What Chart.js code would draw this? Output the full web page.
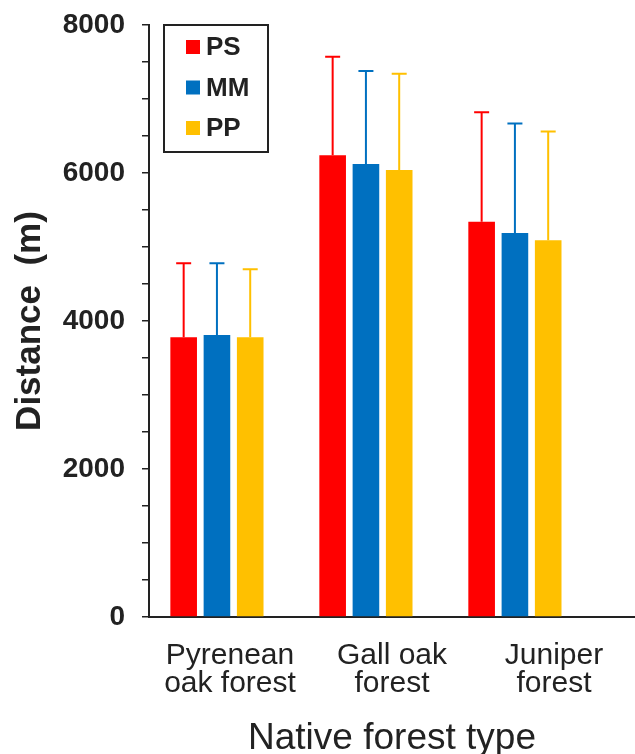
<!DOCTYPE html>
<html>
<head>
<meta charset="utf-8">
<script src="https://cdn.jsdelivr.net/npm/chart.js@4.4.1/dist/chart.umd.min.js"></script>
<style>
  body { margin: 0; background: #fff; }
  canvas { display: block; }
</style>
</head>
<body>
<canvas id="distChart" width="635" height="754"></canvas>
<script>
// forest types (two-line labels)
const forestTypes = [["Pyrenean", "oak forest"], ["Gall oak", "forest"], ["Juniper", "forest"]];
const groupIndex = [0, 1, 2];

// mean distance (m) per species
const psMean = [3780, 6240, 5340];
const mmMean = [3810, 6120, 5190];
const ppMean = [3780, 6040, 5090];

// upper error (m) per species
const psErr = [1000, 1330, 1480];
const mmErr = [970, 1260, 1480];
const ppErr = [920, 1300, 1470];

const yTicks = [0, 2000, 4000, 6000, 8000];

const FONT = "'Liberation Sans', Arial, sans-serif";
const INK = "#222";

const points = vals => vals.map((v, i) => ({ x: groupIndex[i], y: v }));

// upper error bars with caps
const errorBars = {
    id: "errorBars",
    afterDatasetsDraw(chart) {
        const ctx = chart.ctx;
        const y = chart.scales.y;
        chart.data.datasets.forEach((ds, i) => {
            const meta = chart.getDatasetMeta(i);
            meta.data.forEach((bar, j) => {
                const top = y.getPixelForValue(ds.data[j].y + ds.errors[j]);
                ctx.save();
                ctx.strokeStyle = ds.backgroundColor;
                ctx.lineWidth = 2;
                ctx.beginPath();
                ctx.moveTo(bar.x, bar.y);
                ctx.lineTo(bar.x, top);
                ctx.moveTo(bar.x - 7.5, top);
                ctx.lineTo(bar.x + 7.5, top);
                ctx.stroke();
                ctx.restore();
            });
        });
    }
};

// boxed legend inside the plot
const boxLegend = {
    id: "boxLegend",
    afterDraw(chart) {
        const ctx = chart.ctx;
        ctx.save();
        ctx.strokeStyle = INK;
        ctx.lineWidth = 2;
        ctx.strokeRect(164, 25, 104, 127);
        ctx.font = "bold 26px " + FONT;
        ctx.textBaseline = "middle";
        ctx.textAlign = "left";
        chart.data.datasets.forEach((ds, i) => {
            const cy = 47 + i * 40.5;
            ctx.fillStyle = ds.backgroundColor;
            ctx.fillRect(186, cy - 7, 14, 14);
            ctx.fillStyle = INK;
            ctx.fillText(ds.label, 206, cy + 1);
        });
        ctx.restore();
    }
};

new Chart(document.getElementById("distChart").getContext("2d"), {
    type: "bar",
    data: {
        labels: forestTypes,
        datasets: [
            { label: "PS", data: points(psMean), errors: psErr, backgroundColor: "#FF0000", xAxisID: "xb" },
            { label: "MM", data: points(mmMean), errors: mmErr, backgroundColor: "#0070C0", xAxisID: "xb" },
            { label: "PP", data: points(ppMean), errors: ppErr, backgroundColor: "#FFC000", xAxisID: "xb" }
        ]
    },
    options: {
        responsive: false,
        animation: false,
        layout: { padding: { top: 25, right: 0, bottom: 0, left: 0 } },
        datasets: {
            bar: { categoryPercentage: 0.67, barPercentage: 0.8 }
        },
        plugins: {
            legend: { display: false },
            tooltip: { enabled: false }
        },
        scales: {
            // bars sit slightly left of the category labels in the original
            xb: {
                type: "linear",
                display: false,
                offset: false,
                min: -0.456,
                max: 2.806,
                afterBuildTicks(scale) {
                    scale.ticks = groupIndex.map(v => ({ value: v }));
                }
            },
            x: {
                type: "category",
                grid: { display: false },
                border: { display: true, color: INK, width: 2 },
                ticks: {
                    color: INK,
                    padding: 17,
                    font: { family: FONT, size: 30, lineHeight: 0.92 }
                },
                title: {
                    display: true,
                    text: "Native forest type",
                    color: INK,
                    font: { family: FONT, size: 37, lineHeight: 1.1 },
                    padding: { top: 0, bottom: -5 }
                },
                afterFit(scale) { scale.height = 137; }
            },
            y: {
                min: 0,
                max: 8000,
                grid: {
                    display: true,
                    drawOnChartArea: false,
                    drawTicks: true,
                    tickLength: 7,
                    color: INK,
                    lineWidth: 1.5
                },
                border: { display: true, color: INK, width: 2 },
                ticks: {
                    stepSize: 500,
                    autoSkip: false,
                    color: INK,
                    padding: 17,
                    font: { family: FONT, size: 28, weight: "bold" },
                    callback: v => yTicks.includes(v) ? v : ""
                },
                title: {
                    display: true,
                    text: "Distance  (m)",
                    color: INK,
                    font: { family: FONT, size: 35, weight: "bold" },
                    padding: { top: 9, bottom: 0 }
                },
                afterFit(scale) {
                    scale.width = 149;
                    scale.paddingTop = 0;
                    scale.paddingBottom = 0;
                }
            }
        }
    },
    plugins: [errorBars, boxLegend]
});
</script>
</body>
</html>
